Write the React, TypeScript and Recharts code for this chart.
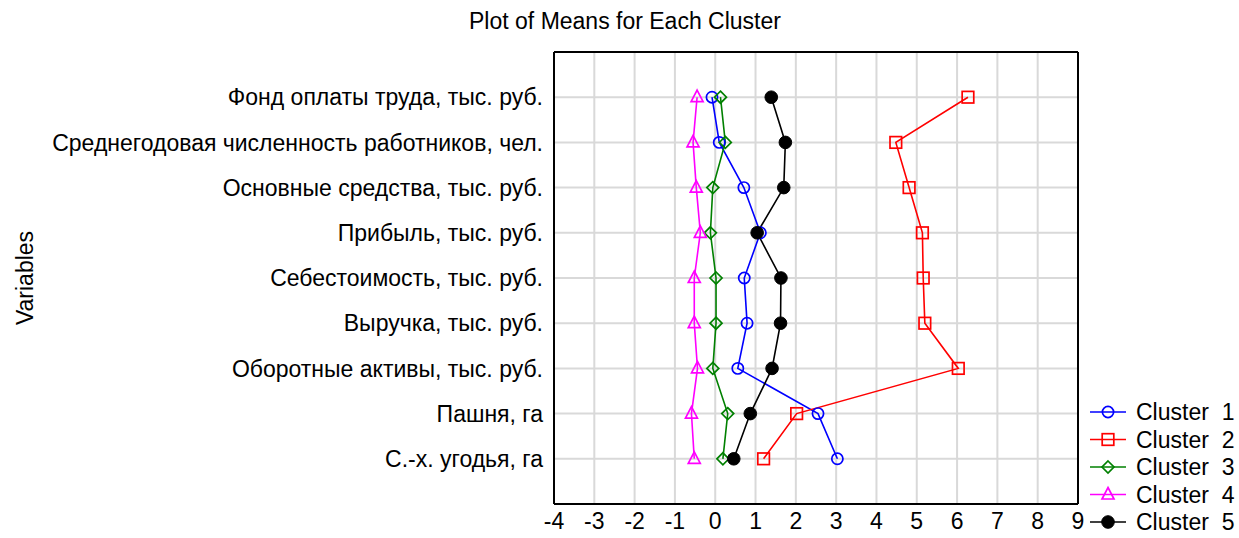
import React from 'react';
import { LineChart, Line, XAxis, YAxis, CartesianGrid, Legend } from 'recharts';

// variables, top to bottom
const variables = [
  'Фонд оплаты труда, тыс. руб.',
  'Среднегодовая численность работников, чел.',
  'Основные средства, тыс. руб.',
  'Прибыль, тыс. руб.',
  'Себестоимость, тыс. руб.',
  'Выручка, тыс. руб.',
  'Оборотные активы, тыс. руб.',
  'Пашня, га',
  'С.-х. угодья, га',
];

const clusterNames = ['Cluster  1', 'Cluster  2', 'Cluster  3', 'Cluster  4', 'Cluster  5'];

const cluster1 = [-0.08, 0.1, 0.71, 1.12, 0.72, 0.79, 0.56, 2.55, 3.03];
const cluster2 = [6.27, 4.48, 4.81, 5.14, 5.16, 5.2, 6.03, 2.02, 1.2];
const cluster3 = [0.13, 0.25, -0.06, -0.12, 0.02, 0.02, -0.06, 0.31, 0.19];
const cluster4 = [-0.45, -0.55, -0.47, -0.37, -0.52, -0.52, -0.44, -0.59, -0.52];
const cluster5 = [1.39, 1.74, 1.7, 1.04, 1.63, 1.62, 1.41, 0.87, 0.46];

const xTicks = [-4, -3, -2, -1, 0, 1, 2, 3, 4, 5, 6, 7, 8, 9];
const yTicks = [1, 2, 3, 4, 5, 6, 7, 8, 9];

const data = variables.map((name, i) => ({
  pos: i + 1,
  name,
  c1: cluster1[i],
  c2: cluster2[i],
  c3: cluster3[i],
  c4: cluster4[i],
  c5: cluster5[i],
}));

const series = [
  { key: 'c1', color: '#0000ff', shape: 'circle' },
  { key: 'c2', color: '#ff0000', shape: 'square' },
  { key: 'c3', color: '#008000', shape: 'diamond' },
  { key: 'c4', color: '#ff00ff', shape: 'triangle' },
  { key: 'c5', color: '#000000', shape: 'dot' },
];

const FONT = '"Liberation Sans", Arial, sans-serif';
const FS = 23;

// minor tick positions for the frame
const xMinor: number[] = [];
for (let i = 0; i <= 65; i++) xMinor.push(Math.round((-4 + i * 0.2) * 100) / 100);
const yMinor: number[] = [];
for (let i = 0; i <= 40; i++) yMinor.push(i * 0.25);

function marker(shape: string, color: string, cx: number, cy: number, key?: React.Key) {
  const sw = 1.7;
  switch (shape) {
    case 'circle':
      return <circle key={key} cx={cx} cy={cy} r={5.6} fill="none" stroke={color} strokeWidth={sw} />;
    case 'square':
      return <rect key={key} x={cx - 5.8} y={cy - 5.8} width={11.6} height={11.6} fill="none" stroke={color} strokeWidth={sw} />;
    case 'diamond':
      return (
        <polygon key={key} points={`${cx},${cy - 6} ${cx + 6},${cy} ${cx},${cy + 6} ${cx - 6},${cy}`}
          fill="none" stroke={color} strokeWidth={sw} />
      );
    case 'triangle':
      return (
        <polygon key={key} points={`${cx},${cy - 7} ${cx + 6},${cy + 4.5} ${cx - 6},${cy + 4.5}`}
          fill="none" stroke={color} strokeWidth={sw} />
      );
    default:
      return <circle key={key} cx={cx} cy={cy} r={6.3} fill={color} stroke={color} />;
  }
}

const renderLegend = () => (
  <svg width={151} height={140} style={{ fontFamily: FONT, display: 'block' }}>
    {series.map((s, i) => {
      const y = 14 + i * 27.5;
      return (
        <g key={s.key}>
          <line x1={2} x2={38} y1={y} y2={y} stroke={s.color} strokeWidth={1.6} />
          {marker(s.shape, s.color, 20, y)}
          <text x={48} y={y} dominantBaseline="central" fontSize={FS} fill="#000" style={{ whiteSpace: 'pre' }}>
            {clusterNames[i]}
          </text>
        </g>
      );
    })}
  </svg>
);

export default function App() {
  return (
    <div style={{ position: 'absolute', left: 0, top: 0, background: '#fff', fontFamily: FONT }}>
      <LineChart
        width={1239}
        height={538}
        data={data}
        layout="vertical"
        margin={{ top: 52, right: 161, bottom: 0, left: 0 }}
      >
        <CartesianGrid xAxisId="x" yAxisId="y" stroke="#d9d9d9" strokeWidth={2} verticalValues={xTicks} horizontalValues={yTicks} />

        <XAxis
          xAxisId="x"
          type="number"
          domain={[-4, 9]}
          ticks={xTicks}
          interval={0}
          allowDataOverflow
          height={34}
          tickLine={false}
          tickSize={0}
          tickMargin={9}
          axisLine={{ stroke: '#000', strokeWidth: 2 }}
          tick={{ fontSize: FS, fill: '#000', fontFamily: FONT }}
        />
        <YAxis
          yAxisId="y"
          type="number"
          dataKey="pos"
          domain={[0, 10]}
          ticks={yTicks}
          interval={0}
          width={554}
          tickLine={false}
          tickSize={0}
          tickMargin={11}
          axisLine={{ stroke: '#000', strokeWidth: 2 }}
          tick={{ fontSize: FS, fill: '#000', fontFamily: FONT }}
          tickFormatter={(v: number) => variables[v - 1] ?? ''}
        />

        {/* frame: top / right edges and inward ticks */}
        <XAxis xAxisId="xt" orientation="top" mirror type="number" domain={[-4, 9]} ticks={xMinor} interval={0}
          height={1} tick={false} tickSize={3} tickLine={{ stroke: '#000' }} axisLine={{ stroke: '#000', strokeWidth: 2 }} />
        <XAxis xAxisId="xtm" orientation="top" mirror type="number" domain={[-4, 9]} ticks={xTicks} interval={0}
          height={1} tick={false} tickSize={5} tickLine={{ stroke: '#000' }} axisLine={false} />
        <XAxis xAxisId="xb" orientation="bottom" mirror type="number" domain={[-4, 9]} ticks={xMinor} interval={0}
          height={1} tick={false} tickSize={3} tickLine={{ stroke: '#000' }} axisLine={false} />
        <XAxis xAxisId="xbm" orientation="bottom" mirror type="number" domain={[-4, 9]} ticks={xTicks} interval={0}
          height={1} tick={false} tickSize={5} tickLine={{ stroke: '#000' }} axisLine={false} />
        <YAxis yAxisId="yl" orientation="left" mirror type="number" domain={[0, 10]} ticks={yMinor} interval={0}
          width={1} tick={false} tickSize={3} tickLine={{ stroke: '#000' }} axisLine={false} />
        <YAxis yAxisId="ylm" orientation="left" mirror type="number" domain={[0, 10]} ticks={yTicks} interval={0}
          width={1} tick={false} tickSize={5} tickLine={{ stroke: '#000' }} axisLine={false} />
        <YAxis yAxisId="yr" orientation="right" mirror type="number" domain={[0, 10]} ticks={yMinor} interval={0}
          width={1} tick={false} tickSize={3} tickLine={{ stroke: '#000' }} axisLine={{ stroke: '#000', strokeWidth: 2 }} />
        <YAxis yAxisId="yrm" orientation="right" mirror type="number" domain={[0, 10]} ticks={yTicks} interval={0}
          width={1} tick={false} tickSize={5} tickLine={{ stroke: '#000' }} axisLine={false} />

        {series.map((s, i) => (
          <Line
            key={s.key}
            xAxisId="x"
            yAxisId="y"
            dataKey={s.key}
            name={clusterNames[i]}
            stroke={s.color}
            strokeWidth={1.6}
            isAnimationActive={false}
            dot={(p: any) => marker(s.shape, s.color, p.cx, p.cy, `${s.key}-${p.index}`)}
            activeDot={false}
          />
        ))}

        <Legend
          layout="vertical"
          align="center"
          verticalAlign="middle"
          content={renderLegend}
          wrapperStyle={{ left: 1088, top: 398, width: 151 }}
        />

        <text x={625} y={29} textAnchor="middle" fontSize={FS} fill="#000" fontFamily={FONT}>
          Plot of Means for Each Cluster
        </text>
        <text x={25} y={278} textAnchor="middle" dominantBaseline="central" fontSize={FS} fill="#000" fontFamily={FONT}
          transform="rotate(-90 25 278)">
          Variables
        </text>
      </LineChart>
    </div>
  );
}
